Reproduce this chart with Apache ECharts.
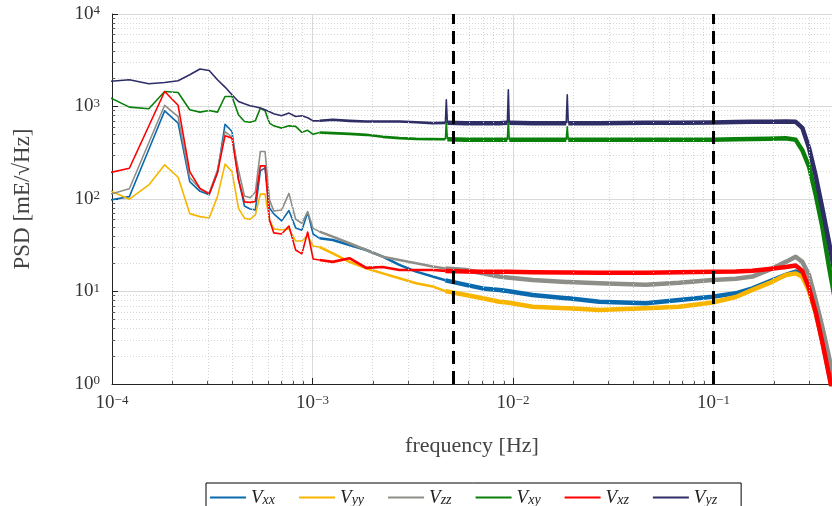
<!DOCTYPE html>
<html>
<head>
<meta charset="utf-8">
<script src="https://cdn.jsdelivr.net/npm/echarts@6/dist/echarts.min.js"></script>
<style>
  html, body { margin: 0; padding: 0; background: #fff; }
  #psdChart { width: 832px; height: 506px; }
</style>
</head>
<body>
<div id="psdChart"></div>
<script>
  // frequency bins [Hz]
  const freq = [
    9.155e-5, 1.2207e-4, 1.5259e-4, 1.8311e-4, 2.1362e-4, 2.4414e-4, 2.7466e-4, 3.0518e-4,
    3.3569e-4, 3.6621e-4, 3.9673e-4, 4.2725e-4, 4.5776e-4, 4.8828e-4, 5.188e-4, 5.4932e-4,
    5.7983e-4, 6.1035e-4, 6.4087e-4, 7.019e-4, 7.6294e-4, 8.2397e-4, 8.8501e-4, 9.4604e-4, 1.0071e-3,
    1.084e-3, 1.262e-3, 1.529e-3, 1.852e-3, 2.24e-3, 2.713e-3, 3.286e-3, 3.976e-3,
    4.6e-3, 4.65e-3, 4.706e-3, 5.831e-3, 7.056e-3, 8.545e-3, 9.37e-3, 9.48e-3, 9.58e-3,
    1.252e-2, 1.843e-2, 1.865e-2, 1.886e-2, 2.692e-2, 4.6e-2, 6.74e-2, 9.87e-2,
    0.1291, 0.1563, 0.1892, 0.2292, 0.257, 0.2773, 0.2995, 0.3234, 0.3488, 0.3767, 0.4036
  ];

  // PSD values [mE/sqrt(Hz)]
  const vxx = [
    95, 106, 343, 898, 661, 154, 121, 111, 192, 642, 536, 165, 84, 78, 76, 201, 217, 80, 69, 58, 75, 48.7, 46, 71.6, 41.8,
    37.6, 36.1, 31.9, 28.1, 23.8, 19.4, 16.4, 14.5, 13.2, 13.2, 13.2, 11.8, 10.8, 10.4, 10.1, 10.1, 10.1,
    9.17, 8.44, 8.44, 8.44, 7.76, 7.45, 8.1, 8.78, 9.56, 10.8, 12.8, 15.1, 16.4, 15.1, 10.4, 6.0, 2.99, 1.35, 0.62
  ];
  const vyy = [
    131, 99.5, 142, 234, 172, 69.5, 64.5, 62.4, 106, 238, 198, 79.5, 62, 60.4, 67.3, 113, 113, 59.4, 47.5, 46.3, 47.5, 35.2, 35.2, 39.9, 31.1,
    30.3, 25.8, 20.9, 17.8, 15.7, 13.9, 12.3, 11.3, 10.1, 10.1, 10.1, 9.17, 8.44, 7.76, 7.6, 7.6, 7.6,
    6.85, 6.58, 6.58, 6.58, 6.31, 6.58, 6.85, 7.6, 8.72, 10.4, 12.3, 15.1, 15.7, 14.4, 10.1, 5.85, 2.91, 1.31, 0.61
  ];
  const vzz = [
    108, 129, 405, 1030, 779, 171, 129, 116, 206, 536, 466, 206, 108, 103, 119, 326, 326, 97.8, 74.3, 76.2, 115, 60.4, 54.7, 73.1, 48.1,
    44.4, 39.2, 33.2, 28.1, 23.8, 21.9, 20.2, 18.6, 17.7, 17.7, 17.7, 17.1, 15.7, 14.5, 14.2, 14.2, 14.2,
    13.3, 12.7, 12.7, 12.7, 12.3, 11.8, 12.4, 13.3, 13.7, 14.5, 17.1, 20.9, 23.8, 20.9, 15.1, 8.1, 4.16, 1.97, 0.97
  ];
  const vxy = [
    1332, 985, 944, 1453, 1418, 921, 870, 905, 870, 1283, 1283, 813, 688, 675, 700, 961, 898, 661, 618, 584, 618, 610, 526, 553, 500,
    523, 515, 506, 494, 470, 455, 447, 444, 442, 683, 442, 436, 436, 436, 436, 718, 436,
    436, 436, 603, 436, 436, 436, 436, 436, 442, 444, 447, 453, 436, 337, 224, 111, 50.3, 18.6, 8.1
  ];
  const vxz = [
    187, 215, 615, 1453, 1030, 198, 130, 113, 192, 482, 455, 161, 93, 92, 94, 228, 228, 59.4, 43, 41.9, 51, 28.1, 25.5, 44, 22.5,
    21.9, 20.9, 22.9, 18.0, 18.4, 17.1, 17.1, 17.1, 16.7, 16.7, 16.7, 16.5, 16.3, 16.3, 16.3, 16.3, 16.3,
    16.1, 16.0, 16.0, 16.0, 15.9, 15.9, 16.1, 16.3, 16.5, 16.8, 17.5, 18.4, 19.1, 16.7, 10.9, 6.0, 2.84, 1.25, 0.59
  ];
  const vyz = [
    1850, 1945, 1761, 1818, 1897, 2203, 2540, 2453, 1945, 1622, 1338, 1133, 1070, 1018, 993, 961, 921, 876, 834, 793, 848, 779, 793, 755, 700,
    700, 718, 700, 688, 688, 688, 675, 661, 666, 1181, 666, 661, 661, 661, 666, 1516, 666,
    661, 661, 1338, 661, 661, 666, 666, 671, 678, 683, 683, 688, 683, 588, 357, 178, 80, 34.3, 15.1
  ];

  const names = ['Vxx', 'Vyy', 'Vzz', 'Vxy', 'Vxz', 'Vyz'];
  const values = [vxx, vyy, vzz, vxy, vxz, vyz];
  const colors = ['#0a6aad', '#f7b500', '#8e8e88', '#0a800a', '#ff0000', '#2e2d66'];
  const bandLimits = [0.005, 0.1];
  const fMin = 1e-4;
  const fMax = 0.39;

  // the noisy part of the spectrum looks thicker, so draw it in segments
  const tiersPlain = [[0, 25, 1.6], [25, 33, 2.6], [33, freq.length - 1, 4.5]];
  // Vxy and Vyz have narrow spectral lines: keep those bits thin
  const tiersLines = [
    [0, 25, 1.6], [25, 33, 2.6], [33, 35, 1.6], [35, 39, 4.5],
    [39, 41, 1.6], [41, 43, 4.5], [43, 45, 1.6], [45, freq.length - 1, 4.5]
  ];
  const font = "'Liberation Serif', 'Times New Roman', serif";
  const lg = Math.log10;

  const powLabel = (v) => {
    const e = Math.round(v);
    return '{b|10}{s|' + (e < 0 ? '\u2212' + (-e) : e) + '}';
  };
  const powLabelLog = (v) => powLabel(lg(v));
  const powRich = {
    b: { fontFamily: font, fontSize: 19, color: '#333' },
    s: { fontFamily: font, fontSize: 13, color: '#333', verticalAlign: 'top' }
  };

  // minor log grid on the x axis (2..9 in every decade)
  const minorX = [];
  [-4, -3, -2, -1].forEach((d) => {
    [2, 3, 4, 5, 6, 7, 8, 9].forEach((m) => {
      const p = d + lg(m);
      if (p < lg(fMax)) minorX.push(p);
    });
  });

  const series = [];
  series.push({
    type: 'line',
    symbol: 'none',
    silent: true,
    data: [[-10, 1]],
    z: 1,
    markLine: {
      silent: true,
      symbol: ['none', 'none'],
      label: { show: false },
      animation: false,
      lineStyle: { color: '#d4d4d4', width: 1, type: [1, 2] },
      data: minorX.map((x) => ({ xAxis: x }))
    }
  });
  series.push({
    type: 'line',
    symbol: 'none',
    silent: true,
    data: [[-10, 1]],
    z: 1,
    markLine: {
      silent: true,
      symbol: ['none', 'none'],
      label: { show: false },
      animation: false,
      lineStyle: { color: '#555', width: 1, type: 'solid' },
      data: minorX.map((x) => [{ coord: [x, 1] }, { coord: [x, 1.08] }])
    }
  });

  names.forEach((name, i) => {
    const tiers = (name === 'Vxy' || name === 'Vyz') ? tiersLines : tiersPlain;
    tiers.forEach(([a, b, w]) => {
      series.push({
        name: name,
        type: 'line',
        symbol: 'none',
        silent: true,
        animation: false,
        z: 2,
        itemStyle: { color: colors[i] },
        lineStyle: { width: w, color: colors[i], join: 'round' },
        data: freq.slice(a, b + 1).map((f, j) => [lg(f), values[i][a + j]])
      });
    });
  });
  // dashed band limits on top of everything
  series[series.length - 1].markLine = {
    silent: true,
    symbol: ['none', 'none'],
    label: { show: false },
    animation: false,
    lineStyle: { color: '#000', width: 3, type: [13, 7] },
    data: bandLimits.map((x) => ({ xAxis: lg(x) }))
  };

  const init = () => {
    const option = {
      backgroundColor: '#fff',
      animation: false,
      grid: { left: 112, right: 0, top: 14, bottom: 122 },
      legend: {
        data: names,
        left: 206,
        top: 483,
        padding: [5, 24, 10, 4],
        itemGap: 24,
        itemWidth: 36,
        itemHeight: 2,
        icon: 'rect',
        borderColor: '#000',
        borderWidth: 1,
        formatter: (n) => '{v|V}{s|' + n.slice(1) + '}',
        textStyle: {
          rich: {
            v: { fontFamily: font, fontStyle: 'italic', fontSize: 19, color: '#222' },
            s: { fontFamily: font, fontStyle: 'italic', fontSize: 14, color: '#222', verticalAlign: 'bottom' }
          }
        }
      },
      xAxis: {
        type: 'value',
        min: lg(fMin),
        max: lg(fMax),
        interval: 1,
        name: 'frequency [Hz]',
        nameLocation: 'middle',
        nameGap: 51,
        nameTextStyle: { fontFamily: font, fontSize: 22, color: '#444' },
        axisLine: { lineStyle: { color: '#222', width: 1 } },
        axisTick: { inside: true, length: 6, lineStyle: { color: '#222' } },
        axisLabel: { formatter: powLabel, margin: 10, rich: powRich, showMaxLabel: false },
        splitLine: { show: true, lineStyle: { color: '#d9d9d9', width: 1 } }
      },
      yAxis: {
        type: 'log',
        logBase: 10,
        min: 1,
        max: 1e4,
        name: 'PSD [mE/\u221AHz]',
        nameLocation: 'middle',
        nameGap: 78,
        nameRotate: 90,
        nameTextStyle: { fontFamily: font, fontSize: 23, color: '#444' },
        axisLine: { show: true, lineStyle: { color: '#222', width: 1 } },
        axisTick: { show: true, inside: true, length: 6, lineStyle: { color: '#222' } },
        minorTick: { show: true, splitNumber: 9, length: 3, lineStyle: { color: '#555' } },
        axisLabel: { formatter: powLabelLog, margin: 12, rich: powRich },
        splitLine: { show: true, lineStyle: { color: '#d9d9d9', width: 1 } },
        minorSplitLine: { show: true, lineStyle: { color: '#d6d6d6', width: 1, type: [1, 2] } }
      },
      series: series
    };
    const myChart = echarts.init(document.getElementById('psdChart'));
    myChart.setOption(option);
  };

  init();
</script>
</body>
</html>
